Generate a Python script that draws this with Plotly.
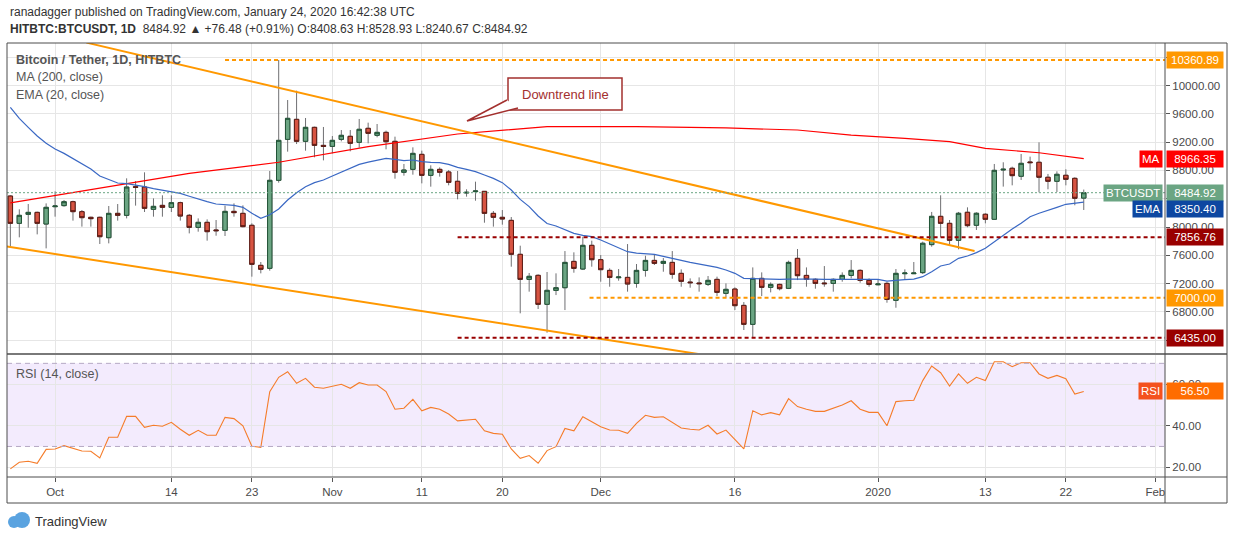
import plotly.graph_objects as go
import pandas as pd

# daily candles, 26 Sep 2019 .. 24 Jan 2020
dates = pd.date_range('2019-09-26', periods=121, freq='D')

opens = [8438, 8052, 8179, 8207, 8042, 8287, 8302, 8358, 8217, 8137,
         8137, 7849, 8193, 8165, 8570, 8565, 8250, 8306, 8278, 8344,
         8165, 7995, 8066, 7958, 7953, 8221, 8193, 8024, 7458, 7416,
         8660, 9239, 9522, 9211, 9409, 9154, 9140, 9239, 9282, 9197,
         9395, 9296, 9338, 9211, 8773, 8815, 9027, 8730, 8815, 8778,
         8646, 8481, 8500, 8504, 8193, 8137, 8094, 7614, 7260, 7317,
         6907, 7104, 7142, 7514, 7406, 7741, 7538, 7387, 7283, 7288,
         7203, 7387, 7528, 7486, 7500, 7345, 7222, 7208, 7189, 7260,
         7062, 7123, 6892, 6624, 7274, 7147, 7189, 7133, 7557, 7316,
         7260, 7208, 7203, 7260, 7316, 7387, 7246, 7184, 7203, 6963,
         7340, 7340, 7355, 7751, 8151, 8052, 7812, 8208, 8024, 8180,
         8109, 8806, 8830, 8717, 8919, 8915, 8703, 8646, 8731, 8688,
         8408.63]
highs = [8448, 8250, 8325, 8217, 8334, 8504, 8382, 8372, 8240, 8146,
         8146, 8297, 8325, 8688, 8650, 8773, 8405, 8448, 8448, 8358,
         8184, 8122, 8108, 8099, 8302, 8334, 8306, 8052, 7505, 8792,
         10360.89, 9795, 9927, 9541, 9418, 9414, 9286, 9371, 9371, 9527,
         9475, 9456, 9362, 9277, 8891, 9126, 9079, 8872, 8843, 8806,
         8792, 8533, 8641, 8509, 8226, 8240, 8141, 7736, 7350, 7331,
         7364, 7345, 7660, 7642, 7863, 7807, 7604, 7415, 7406, 7759,
         7477, 7594, 7618, 7561, 7660, 7401, 7274, 7288, 7307, 7298,
         7203, 7147, 6939, 7429, 7359, 7217, 7199, 7524, 7689, 7429,
         7274, 7448, 7274, 7359, 7533, 7401, 7274, 7260, 7227, 7406,
         7401, 7505, 7793, 8213, 8448, 8099, 8213, 8278, 8208, 8194,
         8891, 8915, 8853, 9032, 8995, 9197, 8750, 8787, 8816, 8703,
         8528.93]
lows = [7722, 7854, 7991, 7896, 7698, 8146, 8287, 8090, 8005, 8005,
        7760, 7769, 8090, 8122, 8302, 8212, 8146, 8146, 8212, 8090,
        7910, 7934, 7807, 7877, 7873, 8146, 7995, 7298, 7345, 7383,
        8627, 9065, 9173, 9079, 8985, 8942, 9041, 9211, 9070, 9121,
        9183, 9268, 9098, 8683, 8726, 8740, 8617, 8570, 8712, 8589,
        8391, 8429, 8372, 8061, 8005, 8033, 7439, 6780, 7086, 6841,
        6506, 7038, 6826, 7354, 7392, 7439, 7227, 7156, 7241, 7086,
        7142, 7298, 7463, 7368, 7269, 7156, 7142, 7086, 7166, 7024,
        7006, 6826, 6544, 6435, 7024, 7076, 7104, 7123, 7250, 7156,
        7128, 7156, 7086, 7227, 7274, 7213, 7156, 7175, 6930, 6859,
        7265, 7335, 7336, 7722, 7854, 7746, 7685, 7996, 7958, 8052,
        8099, 8571, 8589, 8665, 8797, 8490, 8533, 8495, 8589, 8307,
        8240.67]
closes = [8052, 8165, 8207, 8052, 8278, 8297, 8358, 8217, 8132, 8118,
          7863, 8193, 8165, 8565, 8561, 8264, 8292, 8278, 8344, 8155,
          7995, 8066, 7934, 7948, 8221, 8203, 8005, 7472, 7402, 8660,
          9225, 9536, 9211, 9409, 9154, 9140, 9225, 9296, 9183, 9381,
          9324, 9338, 9206, 8773, 8806, 9041, 8730, 8815, 8773, 8631,
          8476, 8490, 8509, 8193, 8137, 8113, 7614, 7260, 7303, 6907,
          7105, 7142, 7500, 7415, 7741, 7538, 7397, 7288, 7293, 7194,
          7387, 7528, 7486, 7514, 7331, 7232, 7213, 7199, 7246, 7076,
          7119, 6888, 6624, 7274, 7147, 7189, 7128, 7500, 7312, 7260,
          7203, 7199, 7260, 7316, 7387, 7246, 7189, 7194, 6977, 7345,
          7349, 7349, 7770, 8151, 8052, 7812, 8194, 8019, 8194, 8109,
          8801, 8816, 8726, 8900, 8910, 8703, 8646, 8745, 8674, 8406,
          8484.92]

ema20 = [9692, 9536, 9409, 9286, 9183, 9103, 9041, 8971, 8900, 8820,
         8721, 8674, 8622, 8613, 8594, 8570, 8542, 8518, 8495, 8476,
         8435, 8391, 8358, 8325, 8316, 8306, 8278, 8193, 8122, 8174,
         8254, 8382, 8485, 8570, 8627, 8665, 8721, 8777, 8829, 8886,
         8917, 8947, 8971, 8957, 8938, 8947, 8924, 8914, 8909, 8886,
         8844, 8815, 8782, 8735, 8688, 8627, 8523, 8391, 8288, 8156,
         8049, 8014, 7957, 7910, 7882, 7863, 7816, 7759, 7708, 7651,
         7632, 7623, 7613, 7585, 7561, 7528, 7500, 7477, 7458, 7430,
         7392, 7345, 7274, 7269, 7264, 7262, 7260, 7262, 7265, 7264,
         7262, 7260, 7260, 7260, 7262, 7262, 7260, 7260, 7236, 7250,
         7255, 7264, 7298, 7369, 7449, 7477, 7557, 7590, 7638, 7699,
         7793, 7887, 7972, 8052, 8146, 8194, 8241, 8278, 8321, 8335,
         8350.40]

ma_dates = ['2019-09-26', '2019-10-06', '2019-10-16', '2019-10-26', '2019-11-05',
            '2019-11-15', '2019-11-25', '2019-12-05', '2019-12-15', '2019-12-23',
            '2019-12-29', '2020-01-04', '2020-01-09', '2020-01-13', '2020-01-19',
            '2020-01-24']
ma200 = [8340, 8547, 8759, 8915, 9135, 9315, 9418, 9418, 9400, 9371,
         9300, 9254, 9206, 9112, 9050, 8966.35]

rsi14 = [19.2, 22.4, 22.9, 21.9, 28.6, 28.8, 30.4, 29.1, 27.8, 27.7,
         24.5, 34.4, 34.4, 44.5, 44.5, 39.2, 40.2, 39.7, 41.6, 38.3,
         35.4, 37.8, 35.4, 35.4, 44.0, 43.4, 39.9, 30.1, 29.6, 56.4,
         63.3, 66.0, 60.4, 62.8, 58.5, 58.0, 59.1, 59.9, 58.0, 60.7,
         59.6, 59.6, 56.4, 47.9, 48.4, 52.7, 47.2, 48.8, 47.9, 45.6,
         42.3, 42.8, 43.1, 37.5, 36.3, 35.9, 28.8, 24.3, 25.6, 21.9,
         28.0, 29.9, 38.7, 37.5, 44.3, 41.9, 39.5, 37.9, 37.8, 36.3,
         41.1, 45.0, 44.0, 44.3, 41.5, 38.9, 38.3, 37.9, 40.2, 36.0,
         37.9, 33.1, 28.8, 47.2, 45.2, 46.3, 45.2, 53.0, 49.2, 47.9,
         46.9, 46.9, 48.4, 50.0, 52.0, 47.9, 46.4, 46.4, 40.0, 51.6,
         52.0, 52.2, 61.7, 68.7, 65.5, 59.1, 64.9, 60.4, 63.3, 61.7,
         70.8, 70.8, 68.4, 70.3, 70.3, 64.9, 62.8, 64.2, 62.6, 55.2,
         56.50]

tick_dates = ['2019-10-01', '2019-10-14', '2019-10-23', '2019-11-01', '2019-11-11',
              '2019-11-20', '2019-12-01', '2019-12-16', '2020-01-01', '2020-01-13',
              '2020-01-22', '2020-02-01']
tick_labels = ['Oct', '14', '23', 'Nov', '11', '20', 'Dec', '16', '2020', '13', '22', 'Feb']

# price scale: labels hidden where the value boxes sit on top of them
price_ticks = [6400, 6800, 7200, 7600, 8000, 8400, 8800, 9200, 9600, 10000, 10400]
price_tick_text = ['', '6800.00', '7200.00', '7600.00', '8000.00', '', '8800.00',
                   '9200.00', '9600.00', '10000.00', '']

# drawn levels and trend lines
level_prices = [10360.89, 7856.76, 7000.00, 6435.00]
level_starts = ['2019-10-20', '2019-11-15', '2019-11-29 18:00', '2019-11-15']
level_colors = ['#ff9800', '#990000', '#ff9800', '#990000']

upper_trend_dates = ['2019-10-04 12:00', '2020-01-11 19:00']
upper_trend_prices = [10606, 7661]
lower_trend_dates = ['2019-09-25 12:00', '2019-12-20']
lower_trend_prices = [7726, 6046]

x_range = ['2019-09-25 15:00', '2020-02-02 02:00']
FONT = 'Liberation Sans, Arial, sans-serif'


def px_x(x):
    return (x - 7) / 1158


def px_y(y):
    return (477 - y) / 434


fig = go.Figure()

# wicks (grey)
fig.add_trace(go.Candlestick(
    x=dates, open=opens, high=highs, low=lows, close=closes,
    increasing=dict(line=dict(color='#6f6f72', width=1), fillcolor='rgba(0,0,0,0)'),
    decreasing=dict(line=dict(color='#6f6f72', width=1), fillcolor='rgba(0,0,0,0)'),
    whiskerwidth=0, xaxis='x', yaxis='y', hoverinfo='skip'))

# bodies with dark outline
body_hi = [max(o, c) for o, c in zip(opens, closes)]
body_lo = [min(o, c) for o, c in zip(opens, closes)]
fig.add_trace(go.Candlestick(
    x=dates, open=opens, high=body_hi, low=body_lo, close=closes,
    increasing=dict(line=dict(color='#225437', width=1), fillcolor='#6ba583'),
    decreasing=dict(line=dict(color='#5b1a13', width=1), fillcolor='#d75442'),
    whiskerwidth=0, xaxis='x', yaxis='y'))

fig.add_trace(go.Scatter(x=ma_dates, y=ma200, mode='lines',
                         line=dict(color='#ff0000', width=1.2), xaxis='x', yaxis='y'))
fig.add_trace(go.Scatter(x=dates, y=ema20, mode='lines',
                         line=dict(color='#3a68c4', width=1.2), xaxis='x', yaxis='y'))

# trend lines
fig.add_trace(go.Scatter(x=upper_trend_dates, y=upper_trend_prices, mode='lines',
                         line=dict(color='#ff9800', width=2), xaxis='x', yaxis='y'))
fig.add_trace(go.Scatter(x=lower_trend_dates, y=lower_trend_prices, mode='lines',
                         line=dict(color='#ff9800', width=2), xaxis='x', yaxis='y'))

# horizontal levels
for p, s, c in zip(level_prices, level_starts, level_colors):
    fig.add_trace(go.Scatter(x=[s, x_range[1]], y=[p, p], mode='lines',
                             line=dict(color=c, width=2, dash='4px,3px'),
                             xaxis='x', yaxis='y'))

# RSI
fig.add_trace(go.Scatter(x=dates, y=rsi14, mode='lines',
                         line=dict(color='#f57c2a', width=1.1), xaxis='x2', yaxis='y2'))

axis_font = dict(family=FONT, size=11.5, color='#4a4a4a')
grid = '#e6e6e6'

fig.update_layout(
    width=1234, height=540,
    margin=dict(l=7, r=69, t=43, b=63),
    paper_bgcolor='white', plot_bgcolor='white',
    showlegend=False,
    font=dict(family=FONT),
    xaxis=dict(domain=[0, 1], anchor='y', range=x_range, type='date',
               tickvals=tick_dates, showticklabels=False, ticks='',
               showgrid=True, gridcolor=grid, zeroline=False,
               rangeslider=dict(visible=False)),
    yaxis=dict(domain=[0.2857, 1], anchor='x', side='right', range=[6219, 10601],
               tickvals=price_ticks, ticktext=price_tick_text, ticks='outside', ticklen=4,
               tickcolor='#555', tickfont=axis_font, showgrid=True, gridcolor=grid,
               zeroline=False),
    xaxis2=dict(domain=[0, 1], anchor='y2', range=x_range, type='date',
                tickvals=tick_dates, ticktext=tick_labels, ticks='outside', ticklen=4,
                tickcolor='#555', tickfont=axis_font, showgrid=True, gridcolor=grid,
                zeroline=False),
    yaxis2=dict(domain=[0, 0.281], anchor='x2', side='right', range=[15.3, 74.0],
                tickvals=[20, 40, 60], ticktext=['20.00', '40.00', '60.00'],
                ticks='outside', ticklen=4, tickcolor='#555', tickfont=axis_font,
                showgrid=True, gridcolor=grid, zeroline=False),
)

shapes = []
# RSI band and bounds
shapes.append(dict(type='rect', xref='x2 domain', yref='y2', x0=0, x1=1, y0=30, y1=70,
                   fillcolor='rgba(149,76,233,0.11)', line=dict(width=0), layer='below'))
for v in (30, 70):
    shapes.append(dict(type='line', xref='x2 domain', yref='y2', x0=0, x1=1, y0=v, y1=v,
                       line=dict(color='#b5a9c4', width=1, dash='5px,4px')))
# last price line
shapes.append(dict(type='line', xref='x domain', yref='y', x0=0, x1=1,
                   y0=closes[-1], y1=closes[-1],
                   line=dict(color='#6ba583', width=1, dash='2px,2px')))
# frame
frame = dict(color='#4d4d4d', width=1)
right = px_x(1227)
bottom = px_y(503)
shapes += [
    dict(type='rect', xref='paper', yref='paper', x0=0, x1=right, y0=bottom, y1=1, line=frame),
    dict(type='line', xref='paper', yref='paper', x0=0, x1=right, y0=px_y(354), y1=px_y(354),
         line=dict(color='#4d4d4d', width=1.5)),
    dict(type='line', xref='paper', yref='paper', x0=0, x1=right, y0=0, y1=0, line=frame),
    dict(type='line', xref='paper', yref='paper', x0=1, x1=1, y0=bottom, y1=1, line=frame),
]

# "Downtrend line" callout box with a tail
red_note = '#a3302e'
shapes.append(dict(type='rect', xref='paper', yref='paper',
                   x0=px_x(508), x1=px_x(622), y0=px_y(110), y1=px_y(78),
                   fillcolor='white', line=dict(color=red_note, width=1.5)))
tail = 'M %f,%f L %f,%f L %f,%f' % (px_x(507), px_y(100), px_x(467), px_y(121),
                                     px_x(518), px_y(108))
shapes.append(dict(type='path', xref='paper', yref='paper', path=tail,
                   fillcolor='white', line=dict(color=red_note, width=1.5)))

# TradingView logo
shapes.append(dict(type='circle', xref='paper', yref='paper',
                   x0=px_x(8), x1=px_x(20), y0=px_y(528), y1=px_y(516),
                   fillcolor='#5aa3e0', line=dict(width=0)))
shapes.append(dict(type='circle', xref='paper', yref='paper',
                   x0=px_x(14), x1=px_x(30), y0=px_y(528), y1=px_y(512),
                   fillcolor='#5aa3e0', line=dict(width=0)))
fig.update_layout(shapes=shapes)

ann = []
txt = '#333333'
ann.append(dict(xref='paper', yref='paper', x=px_x(8), y=px_y(12), xanchor='left', yanchor='middle',
                showarrow=False, font=dict(size=12, color=txt),
                text='ranadagger published on TradingView.com, January 24, 2020 16:42:38 UTC'))
chg = closes[-1] - 8408.44
ann.append(dict(xref='paper', yref='paper', x=px_x(8), y=px_y(29), xanchor='left', yanchor='middle',
                showarrow=False, font=dict(size=12, color=txt),
                text='<b>HITBTC:BTCUSDT, 1D</b>  %.2f ▲ +%.2f (+0.91%%) O:%.2f H:%.2f L:%.2f C:%.2f'
                     % (closes[-1], chg, opens[-1], highs[-1], lows[-1], closes[-1])))
legend_lines = ['<b>Bitcoin / Tether, 1D, HITBTC</b>', 'MA (200, close)', 'EMA (20, close)']
for i, t in enumerate(legend_lines):
    ann.append(dict(xref='paper', yref='paper', x=px_x(14), y=px_y(60 + 17.5 * i),
                    xanchor='left', yanchor='middle', showarrow=False,
                    font=dict(size=12.5, color='#555555'), text=t))
ann.append(dict(xref='paper', yref='paper', x=px_x(14), y=px_y(374), xanchor='left',
                yanchor='middle', showarrow=False, font=dict(size=12.5, color='#555555'),
                text='RSI (14, close)'))
ann.append(dict(xref='paper', yref='paper', x=px_x(33), y=px_y(521), xanchor='left',
                yanchor='middle', showarrow=False, font=dict(size=13, color='#333333'),
                text='TradingView'))
ann.append(dict(xref='paper', yref='paper', x=px_x(565), y=px_y(94), xanchor='center',
                yanchor='middle', showarrow=False, text='Downtrend line',
                font=dict(size=13, color=red_note)))


def price_label(y, text, color, yref='y', yshift=0, name=None, name_color=None):
    ann.append(dict(xref='paper', yref=yref, x=1, y=y, xanchor='left', yanchor='middle',
                    xshift=1, yshift=yshift, showarrow=False, text=text, width=52,
                    font=dict(size=11.5, color='white'), bgcolor=color, borderpad=2))
    if name:
        ann.append(dict(xref='paper', yref=yref, x=1, y=y, xanchor='right', yanchor='middle',
                        xshift=-2, yshift=yshift, showarrow=False, text=name,
                        font=dict(size=11.5, color='white'), bgcolor=name_color or color,
                        borderpad=2))


for p, c in zip(level_prices, level_colors):
    price_label(p, '%.2f' % p, c)
price_label(ma200[-1], '%.2f' % ma200[-1], '#ff0000', name='MA')
price_label(closes[-1], '%.2f' % closes[-1], '#6ba583', name='BTCUSDT')
price_label(ema20[-1], '%.2f' % ema20[-1], '#0d47a1', yshift=-7, name='EMA')
price_label(rsi14[-1], '%.2f' % rsi14[-1], '#ff6d00', yref='y2', name='RSI', name_color='#f4511e')

fig.update_layout(annotations=ann)

# the page gets no default body margin, so the figure sits at the window corner
fig.write_html('out.html', config={'displayModeBar': False},
               post_script="document.body.style.margin='0';"
                           "document.body.style.overflow='hidden';")
